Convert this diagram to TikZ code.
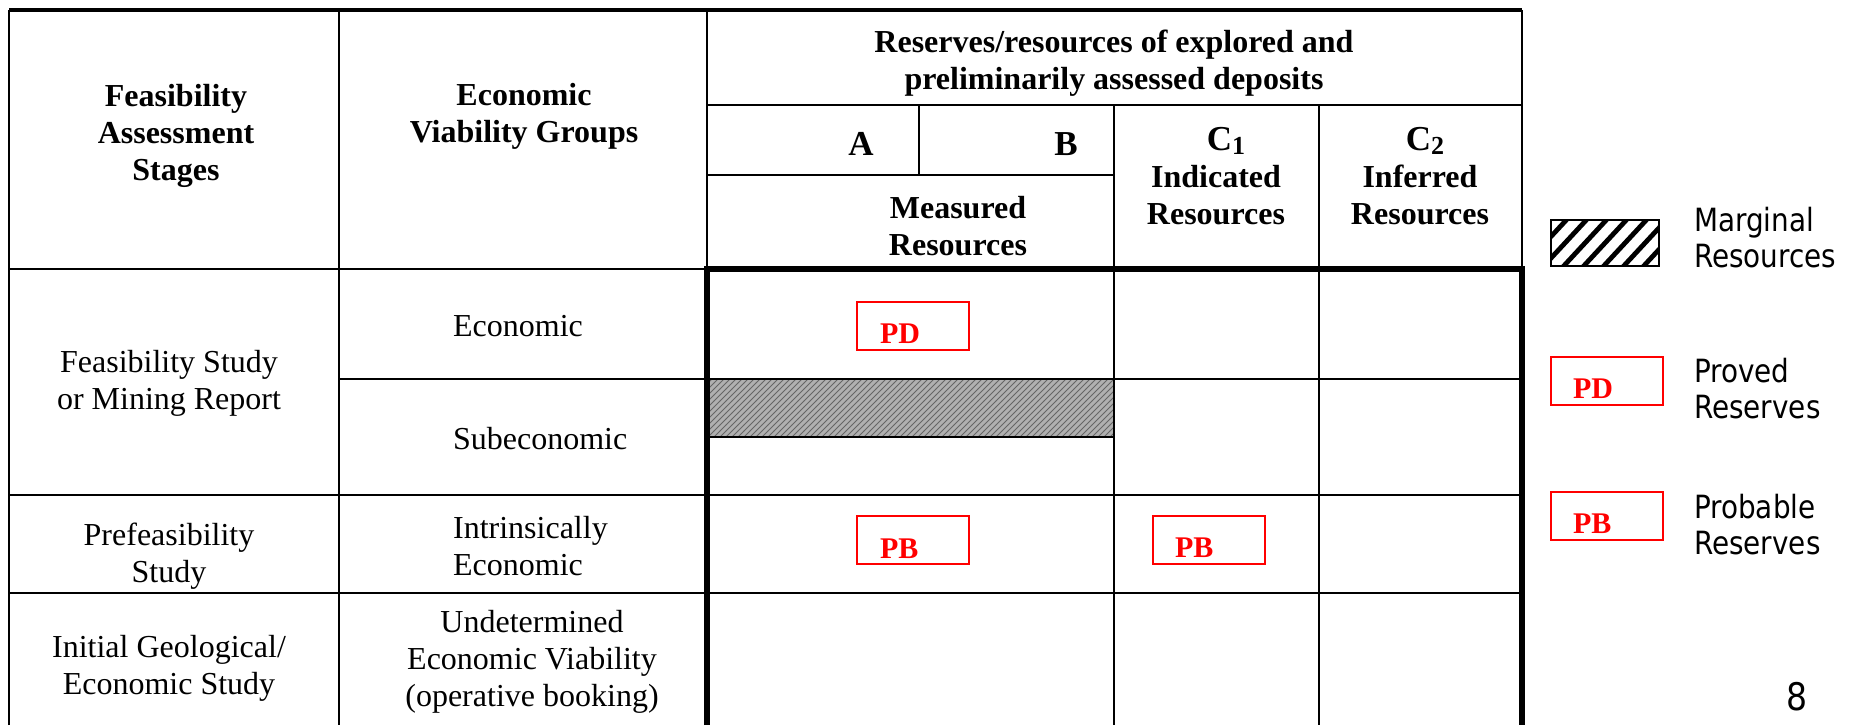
\documentclass[tikz,border=0pt]{standalone}
\usepackage{fontspec}
\setmainfont{Liberation Serif}
\newfontfamily\legendfont[FakeStretch=0.87]{DejaVu Sans}
\usetikzlibrary{patterns}
\tikzset{
	cell/.style={align=center, inner sep=0pt, font=\fontsize{16}{18.5}\selectfont},
	head/.style={cell, font=\fontsize{16}{18.5}\selectfont\bfseries},
	grade/.style={inner sep=0pt, font=\fontsize{17.5}{18.5}\selectfont\bfseries},
	resbox/.style={draw=red, line width=0.8pt, minimum width=56pt, minimum height=24pt, inner sep=0pt},
	restext/.style={text=red, inner sep=0pt, font=\fontsize{15}{18}\selectfont\bfseries},
	legtext/.style={align=left, inner sep=0pt, font=\legendfont\fontsize{16}{18}\selectfont},
}
\newcommand{\gradesub}[1]{\raisebox{-2pt}{\fontsize{13}{13}\selectfont #1}}

\begin{document}
\begin{tikzpicture}[x=0.5pt, y=-0.5pt, line width=1.1pt]
			\def\xl{9}; \def\xs{339}; \def\xg{707}; \def\xab{919}; \def\xm{1114}; \def\xc{1319}; \def\xr{1522};
			\def\yb{725};
			\useasboundingbox (0,0) rectangle (1853,725);
			\fill[gray!62] (\xg,379) rectangle (\xm,437);
			\fill[pattern=north east lines, pattern color=black!60] (\xg,379) rectangle (\xm,437);
			\draw (\xl,\yb) -- (\xl,10);
			\draw[line width=1.6pt] (\xl,10) -- (\xr,10);
			\draw (\xr,10) -- (\xr,269);
			\draw (\xs,10) -- (\xs,\yb);
			\draw (\xg,10) -- (\xg,269);
			\draw (\xg,105) -- (\xr,105);
			\draw (\xab,105) -- (\xab,175);
			\draw (\xg,175) -- (\xm,175);
			\draw (\xm,105) -- (\xm,\yb);
			\draw (\xc,105) -- (\xc,\yb);
			\draw (\xl,269) -- (\xg,269);
			\draw (\xs,379) -- (\xr,379);
			\draw (\xg,437) -- (\xm,437);
			\draw (\xl,495) -- (\xr,495);
			\draw (\xl,593) -- (\xr,593);
			\draw[line width=2.6pt] (\xg,\yb) -- (\xg,269) -- (\xr,269) -- (\xr,\yb);
			\node[head] (stagehd) at (176,136) {Feasibility\\Assessment\\Stages};
			\node[head] (grouphd) at (524,116) {Economic\\Viability Groups};
			\node[head] (deposhd) at (1114,63) {Reserves/resources of explored and\\preliminarily assessed deposits};
			\node[grade, anchor=base] (gra) at (861,155) {A};
			\node[grade, anchor=base] (grb) at (1066,155) {B};
			\node[head] (meashd) at (958,226) {Measured\\Resources};
			\node[grade, anchor=base] (grc1) at (1226,150) {C\gradesub{1}};
			\node[head] (indhd) at (1216,195) {Indicated\\Resources};
			\node[grade, anchor=base] (grc2) at (1425,150) {C\gradesub{2}};
			\node[head] (infhd) at (1420,195) {Inferred\\Resources};
			\node[cell] (fstudy) at (169,383) {Feasibility Study\\or Mining Report};
			\node[cell, anchor=base west] (econ) at (452,336) {Economic};
			\node[cell, anchor=base west] (subecon) at (452,449) {Subeconomic};
			\node[cell, align=left, anchor=west] (intecon) at (452,546) {Intrinsically\\Economic};
			\node[cell] (prefeas) at (169,556) {Prefeasibility\\Study};
			\node[cell] (initial) at (169,668) {Initial Geological/\\Economic Study};
			\node[cell] (undet) at (532,662) {Undetermined\\Economic Viability\\(operative booking)};
			\node[resbox] (pdbox) at (913,326) {};
			\node[restext, anchor=base west] (pd) at (879,343) {PD};
			\node[resbox] (pbbox) at (913,540) {};
			\node[restext, anchor=base west] (pb) at (879,558) {PB};
			\node[resbox] (pbcbox) at (1209,540) {};
			\node[restext, anchor=base west] (pbc) at (1174,557) {PB};
			\begin{scope}
				\clip (1551,220) rectangle (1659,266);
				\foreach \s in {0,20,...,160}
					\draw[line width=2.4pt] (1520+\s,270) -- (1570+\s,216);
			\end{scope}
			\draw (1551,220) rectangle (1659,266);
			\node[resbox] (pdkey) at (1607,381) {};
			\node[restext, anchor=base west] (pdkeyt) at (1572,398) {PD};
			\node[resbox] (pbkey) at (1607,516) {};
			\node[restext, anchor=base west] (pbkeyt) at (1572,533) {PB};
			\node[legtext, anchor=west] (margt) at (1693,238) {Marginal\\Resources};
			\node[legtext, anchor=west] (provt) at (1693,389) {Proved\\Reserves};
			\node[legtext, anchor=west] (probt) at (1693,525) {Probable\\Reserves};
			\node[inner sep=0pt, anchor=base, font=\legendfont\fontsize{19}{20}\selectfont] (pagenum) at (1797,710) {8};
\end{tikzpicture}
\end{document}
